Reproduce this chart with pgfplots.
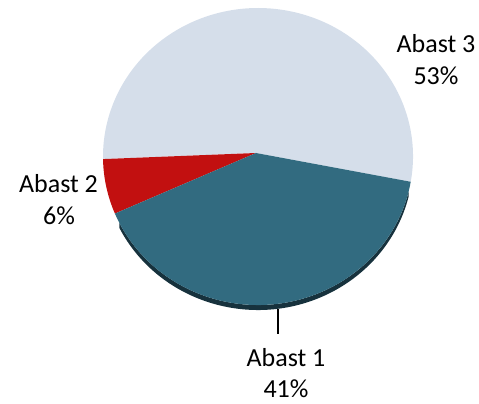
\documentclass[border=0pt]{standalone}
\usepackage{pgfplots}
\usepackage{pgfplotstable}
\pgfplotsset{compat=1.18}
\usepackage{fontspec}
\setmainfont{Carlito}
\definecolor{cA}{HTML}{326B80}
\definecolor{cB}{HTML}{C21010}
\definecolor{cC}{HTML}{D5DEEA}
\definecolor{cS}{HTML}{17323D}
\pgfplotstableread{
name value
A1 41
A2 6
A3 53
}\piedata
\begin{document}
\begin{tikzpicture}
\pgfplotstablegetelem{0}{value}\of\piedata \let\va\pgfplotsretval
\pgfplotstablegetelem{1}{value}\of\piedata \let\vb\pgfplotsretval
\pgfplotstablegetelem{2}{value}\of\piedata \let\vc\pgfplotsretval
\pgfmathsetmacro{\sB}{181}
\pgfmathsetmacro{\eB}{\sB+3.6*\vb}
\pgfmathsetmacro{\eA}{\eB+3.6*\va}
\pgfmathsetmacro{\eC}{\eA+3.6*\vc}
\pgfmathsetmacro{\shA}{\eB+4}
\pgfmathsetmacro{\shB}{\eA-4}
\begin{axis}[at={(0,0)},anchor=south west,width=479pt,height=404pt,scale only axis,
  xmin=0,xmax=479,ymin=0,ymax=404,hide axis,clip=false]
\path (axis cs:0,0) rectangle (axis cs:479,404);
% shadow (crescent below the pie)
\fill[cS] (axis cs:258,242.5) ++(\shA:155pt and 148.5pt) arc[start angle=\shA,end angle=\shB,x radius=155pt,y radius=148.5pt]
  -- ++(0,5pt) arc[start angle=\shB,end angle=\shA,x radius=155pt,y radius=148.5pt] -- cycle;
% slices
\fill[cC] (axis cs:258,247.5) ++(\eA:155pt and 148.5pt) arc[start angle=\eA,end angle=\eC,x radius=155pt,y radius=148.5pt] -- (axis cs:256,251) -- cycle;
\fill[cB] (axis cs:258,247.5) ++(\sB:155pt and 148.5pt) arc[start angle=\sB,end angle=\eB,x radius=155pt,y radius=148.5pt] -- (axis cs:256,251) -- cycle;
\fill[cA] (axis cs:258,247.5) ++(\eB:155pt and 148.5pt) arc[start angle=\eB,end angle=\eA,x radius=155pt,y radius=148.5pt] -- (axis cs:256,251) -- cycle;
% leader
\draw[line width=2.4pt] (axis cs:278,95) -- (axis cs:278,70);
% labels
\node[anchor=base,inner sep=0pt,font=\fontsize{26}{32}\selectfont] at (axis cs:436,351) {Abast 3};
\node[anchor=base,inner sep=0pt,font=\fontsize{26}{32}\selectfont] at (axis cs:436,319) {53\%};
\node[anchor=base,inner sep=0pt,font=\fontsize{26}{32}\selectfont] at (axis cs:58.5,211) {Abast 2};
\node[anchor=base,inner sep=0pt,font=\fontsize{26}{32}\selectfont] at (axis cs:59,179) {6\%};
\node[anchor=base,inner sep=0pt,font=\fontsize{26}{32}\selectfont] at (axis cs:286,37) {Abast 1};
\node[anchor=base,inner sep=0pt,font=\fontsize{26}{32}\selectfont] at (axis cs:286,6) {41\%};
\end{axis}
\end{tikzpicture}
\end{document}
